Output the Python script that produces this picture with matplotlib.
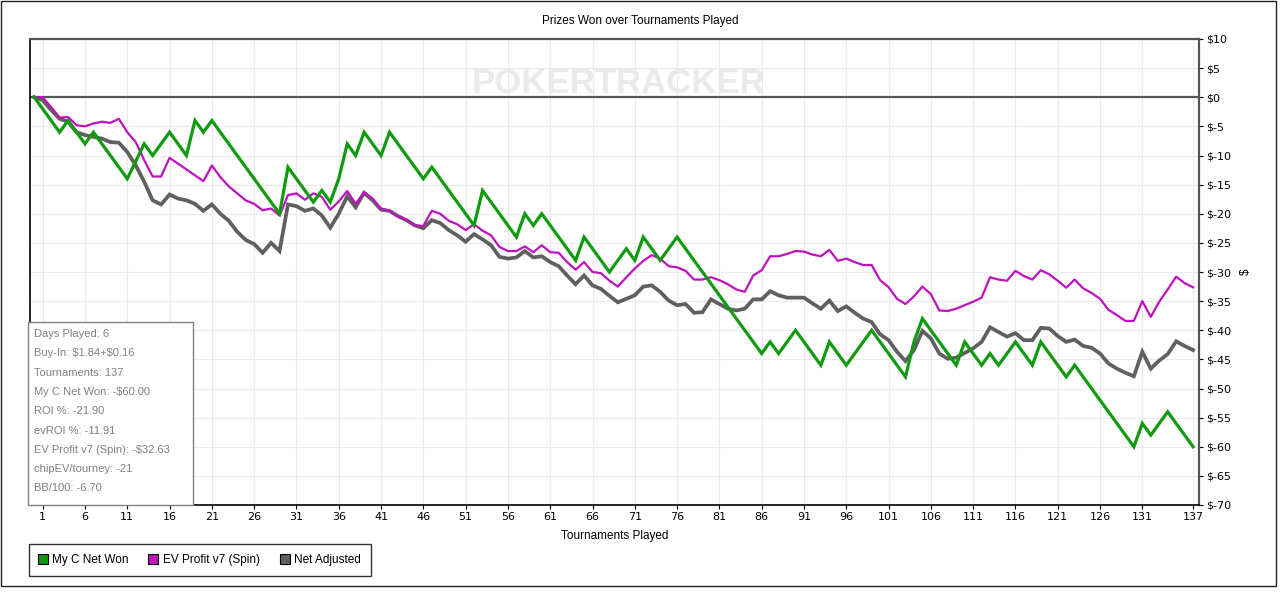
import matplotlib
matplotlib.use("Agg")
import matplotlib.pyplot as plt
import matplotlib.patches as patches
from matplotlib.lines import Line2D
import numpy as np

plt.rcParams['font.family'] = ['Liberation Sans', 'DejaVu Sans']

# cumulative results after each tournament (index 0 = start)
net_won = [0, -2, -4, -6, -4, -6, -8, -6, -8, -10, -12, -14, -11, -8, -10, -8, -6, -8, -10, -4,
           -6, -4, -6, -8, -10, -12, -14, -16, -18, -20, -12, -14, -16, -18, -16, -18, -14, -8, -10, -6,
           -8, -10, -6, -8, -10, -12, -14, -12, -14, -16, -18, -20, -22, -16, -18, -20, -22, -24, -20, -22,
           -20, -22, -24, -26, -28, -24, -26, -28, -30, -28, -26, -28, -24, -26, -28, -26, -24, -26, -28, -30,
           -32, -34, -36, -38, -40, -42, -44, -42, -44, -42, -40, -42, -44, -46, -42, -44, -46, -44, -42, -40,
           -42, -44, -46, -48, -42, -38, -40, -42, -44, -46, -42, -44, -46, -44, -46, -44, -42, -44, -46, -42,
           -44, -46, -48, -46, -48, -50, -52, -54, -56, -58, -60, -56, -58, -56, -54, -56, -58, -60]

ev_profit = [0, 0.0, -1.7, -3.5, -3.4, -4.8, -5.0, -4.5, -4.2, -4.4, -3.7, -6.0, -7.7, -10.8, -13.6, -13.6, -10.4, -11.4, -12.4, -13.4,
             -14.4, -11.7, -13.7, -15.3, -16.5, -17.7, -18.3, -19.4, -19.1, -20.3, -16.8, -16.5, -17.6, -16.5, -17.1, -19.3, -17.9, -16.1, -18.3, -16.3,
             -17.4, -19.1, -19.5, -20.5, -21.0, -22.0, -22.1, -19.5, -20.0, -21.2, -21.8, -22.8, -21.8, -22.9, -23.7, -25.7, -26.4, -26.4, -25.6, -26.6,
             -25.4, -26.6, -26.7, -28.3, -29.6, -28.3, -30.0, -30.2, -31.5, -32.5, -30.9, -29.4, -28.1, -27.1, -27.7, -29.0, -29.2, -29.8, -31.3, -31.3,
             -30.9, -31.4, -32.1, -33.0, -33.4, -30.6, -29.7, -27.3, -27.3, -26.9, -26.4, -26.5, -27.0, -27.3, -26.2, -28.1, -27.7, -28.3, -28.8, -28.8,
             -31.4, -32.6, -34.6, -35.5, -34.2, -32.5, -33.8, -36.6, -36.7, -36.3, -35.7, -35.1, -34.4, -30.9, -31.3, -31.5, -29.8, -30.7, -31.3, -29.7,
             -30.4, -31.5, -32.7, -31.3, -32.8, -33.6, -34.6, -36.5, -37.4, -38.4, -38.4, -35.0, -37.7, -35.1, -33.0, -30.8, -31.9, -32.63]

net_adjusted = [0, -0.5, -2.2, -3.7, -4.2, -6.0, -6.5, -6.8, -7.1, -7.7, -7.8, -9.4, -11.7, -14.5, -17.7, -18.4, -16.7, -17.4, -17.7, -18.3,
                -19.5, -18.4, -20.0, -21.2, -23.1, -24.5, -25.2, -26.7, -25.0, -26.4, -18.4, -18.7, -19.5, -19.1, -20.3, -22.4, -20.0, -17.0, -18.9, -16.4,
                -17.7, -19.3, -19.5, -20.4, -21.1, -22.0, -22.5, -21.1, -21.6, -22.8, -23.7, -24.8, -23.5, -24.4, -25.4, -27.4, -27.7, -27.5, -26.4, -27.5,
                -27.3, -28.3, -29.0, -30.6, -32.1, -30.6, -32.3, -32.9, -34.1, -35.2, -34.6, -34.0, -32.5, -32.3, -33.4, -34.9, -35.7, -35.5, -37.0, -36.9,
                -34.7, -35.5, -36.3, -36.6, -36.3, -34.7, -34.7, -33.3, -34.0, -34.4, -34.4, -34.4, -35.4, -36.3, -34.9, -36.7, -35.9, -37.0, -38.0, -38.6,
                -40.7, -41.7, -43.7, -45.3, -43.4, -40.1, -41.4, -44.0, -44.9, -44.7, -43.9, -43.1, -42.0, -39.5, -40.3, -41.1, -40.5, -41.7, -41.7, -39.6,
                -39.7, -41.0, -42.0, -41.6, -42.7, -43.0, -44.0, -45.7, -46.6, -47.3, -47.9, -43.7, -46.6, -45.2, -44.1, -41.9, -42.7, -43.4]

x_ticks = list(range(1, 132, 5)) + [137]
y_ticks = list(range(-70, 11, 5))

stats_lines = ["Days Played: 6", "Buy-In: \\$1.84+\\$0.16", "Tournaments: 137",
               "My C Net Won: -\\$60.00", "ROI %: -21.90", "evROI %: -11.91",
               "EV Profit v7 (Spin): -\\$32.63", "chipEV/tourney: -21", "BB/100: -6.70"]

series_names = ["My C Net Won", "EV Profit v7 (Spin)", "Net Adjusted"]
c_green = "#109a10"
c_pink = "#c010c0"
c_gray = "#606060"
tick_font = ['DejaVu Sans']

W, H = 1280, 593
fig = plt.figure(figsize=(W / 100, H / 100), dpi=100, facecolor="white")
ax = fig.add_axes([30 / W, 1 - 505 / H, (1199 - 30) / W, (505 - 39) / H])

t = np.arange(len(net_won))
ax.plot(t, net_adjusted, color=c_gray, lw=2.7, zorder=3, solid_joinstyle="miter")
ax.plot(t, ev_profit, color=c_pink, lw=1.6, zorder=4)
ax.plot(t, net_won, color=c_green, lw=2.3, zorder=5, solid_joinstyle="miter")
ax.axhline(0, color="#555555", lw=1.6, zorder=2)

ax.set_xlim(-0.5, 137.7)
ax.set_ylim(-70, 10)
ax.set_xticks(x_ticks)
ax.set_xticklabels([str(v) for v in x_ticks], fontsize=8, family=tick_font)
ax.set_yticks(y_ticks)
ax.set_yticklabels(["\\$" + str(v) for v in y_ticks], fontsize=8, family=tick_font)
ax.yaxis.tick_right()
ax.yaxis.set_label_position("right")
ax.set_ylabel("\\$", fontsize=8.5, labelpad=6)
ax.set_xlabel("Tournaments Played", fontsize=8.5, labelpad=6)
ax.tick_params(axis="both", length=3, width=0.8, pad=2)
ax.grid(True, color="#ebebeb", lw=0.8, zorder=0)
ax.set_axisbelow(True)
for s in ["left", "bottom"]:
    ax.spines[s].set_color("black")
    ax.spines[s].set_linewidth(1.2)
for s in ["top", "right"]:
    ax.spines[s].set_color("#555555")
    ax.spines[s].set_linewidth(1.6)

ax.text(0.503, 0.905, "POKERTRACKER", transform=ax.transAxes, ha="center", va="center",
        fontsize=25, fontweight="bold", color="#eaeaea", zorder=1)

fig.text(640 / W, 1 - 21 / H, "Prizes Won over Tournaments Played", ha="center", va="center", fontsize=8.5)

# stats box
fig.patches.append(patches.Rectangle((28 / W, 1 - 505 / H), 165 / W, 183 / H,
                                     transform=fig.transFigure, facecolor="white",
                                     edgecolor="#808080", lw=1.0, zorder=6))
for i, line in enumerate(stats_lines):
    fig.text(34 / W, 1 - (334 + 19.3 * i) / H, line, ha="left", va="center",
             fontsize=8, color="#808080", zorder=7)

# legend
handles = [Line2D([], [], ls="none", marker="s", markersize=7, markerfacecolor=c,
                  markeredgecolor="black", markeredgewidth=0.8) for c in (c_green, c_pink, c_gray)]
leg = fig.legend(handles, series_names, loc="lower left", bbox_to_anchor=(29 / W, 1 - 576 / H),
                 ncol=3, fontsize=8.5, frameon=True, fancybox=False, edgecolor="black",
                 handlelength=0.6, handletextpad=0.5, columnspacing=1.8, borderpad=0.85,
                 borderaxespad=0)
leg.get_frame().set_linewidth(1.0)

# outer frame
fig.patches.append(patches.Rectangle((0.5 / W, 1 - 586 / H), 1275 / W, 585.5 / H,
                                     transform=fig.transFigure, fill=False,
                                     edgecolor="#222222", lw=1.0))

fig.savefig("out.png", dpi=100, facecolor="white")
